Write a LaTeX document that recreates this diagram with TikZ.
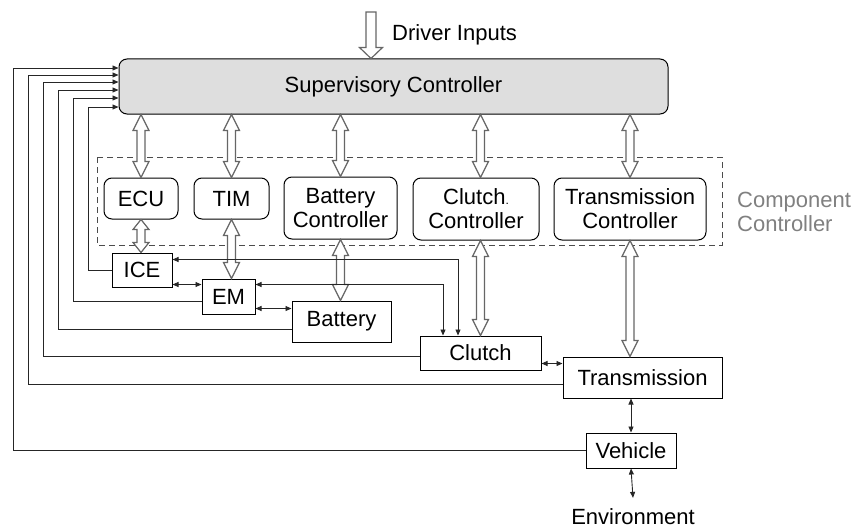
\documentclass[tikz,border=0pt]{standalone}
\usepackage{fontspec}
\setmainfont{Liberation Sans}
\usetikzlibrary{arrows.meta,calc,positioning}

\begin{document}
\begin{tikzpicture}[
  x=1pt, y=-1pt,
  ctrl/.style={rectangle, draw, rounded corners=8pt, align=center, inner sep=0pt,
               line width=1pt, font=\fontsize{22}{24}\selectfont},
  plant/.style={rectangle, draw, inner sep=0pt, line width=1pt,
                font=\fontsize{22}{24}\selectfont},
  lbl/.style={inner sep=0pt, font=\fontsize{22}{24}\selectfont},
  sig/.style={{Triangle[length=6pt,width=5pt]}-{Triangle[length=6pt,width=5pt]},
              line width=0.9pt, draw=black!85},
  fb/.style={-{Triangle[length=6pt,width=5pt]}, line width=0.9pt, draw=black!85},
  bus/.style={draw=black!60, fill=white, line width=1.2pt, to path={
      -- ($(\tikztostart)+(8,#1)$) -- ($(\tikztostart)+(4,#1)$)
      -- ($(\tikztotarget)+(4,-#1)$) -- ($(\tikztotarget)+(8,-#1)$)
      -- (\tikztotarget) -- ($(\tikztotarget)+(-8,-#1)$) -- ($(\tikztotarget)+(-4,-#1)$)
      -- ($(\tikztostart)+(-4,#1)$) -- ($(\tikztostart)+(-8,#1)$) -- cycle}},
  bus/.default=16,
  inarrow/.style={draw=black!60, fill=white, line width=1.2pt, to path={
      -- +(5,0) -- ($(\tikztotarget)+(5,-11)$) -- ($(\tikztotarget)+(11.5,-11)$)
      -- (\tikztotarget) -- ($(\tikztotarget)+(-11.5,-11)$) -- ($(\tikztotarget)+(-5,-11)$)
      -- ($(\tikztostart)+(-5,0)$) -- cycle}}
]
\useasboundingbox (0,0) rectangle (853,527);

% supervisory level
\node[ctrl, fill=black!13, minimum width=549pt, minimum height=55pt] (sup) at (393.5,86.5)
  {Supervisory Controller};
\coordinate (drv) at (371,12);
\node[lbl, anchor=west] (drvtext) at (392,35) {Driver Inputs};
\draw[inarrow] (drv) to (drv |- sup.north);

% component controllers
\draw[black!70, line width=1pt, dash pattern=on 6pt off 4pt] (97,157) rectangle (722,245);
\node[ctrl, minimum width=74pt, minimum height=41pt] (ecu) at (141,198.5) {ECU};
\node[ctrl, minimum width=75pt, minimum height=41pt] (tim) at (231.5,198.5) {TIM};
\node[ctrl, minimum width=113pt, minimum height=62pt] (batctrl) at (340.5,208)
  {Battery\\Controller};
\node[ctrl, minimum width=126pt, minimum height=62pt] (cluctrl) at (476,209)
  {Clutch{\fontsize{12}{12}\selectfont.}\\Controller};
\node[ctrl, minimum width=152pt, minimum height=62pt] (trnctrl) at (630,209)
  {Transmission\\Controller};
\node[lbl, anchor=west, align=left, text=black!50] (comp) at (737,212)
  {Component\\Controller};

% plant
\node[plant, minimum width=60pt, minimum height=34pt] (ice) at (142,270) {ICE};
\node[plant, minimum width=53pt, minimum height=35pt] (em) at (228.5,296.5) {EM};
\node[plant, minimum width=99pt, minimum height=41pt] (bat) at (341.5,321.5) {Battery};
\node[plant, minimum width=121pt, minimum height=34pt] (clutch) at (480.5,353) {Clutch};
\node[plant, minimum width=159pt, minimum height=41pt] (trans) at (642.5,377.5) {Transmission};
\node[plant, minimum width=90pt, minimum height=35pt] (veh) at (631,450.5) {Vehicle};
\node[lbl, anchor=base] (env) at (633,524) {Environment};

% buses
\draw[bus] (ecu.north |- sup.south) to (ecu.north);
\draw[bus] (tim.north |- sup.south) to (tim.north);
\draw[bus] (batctrl.north |- sup.south) to (batctrl.north);
\draw[bus] (clutch.north |- sup.south) to (clutch.north |- cluctrl.north);
\draw[bus] (trnctrl.north |- sup.south) to (trnctrl.north);
\draw[bus=10] (ecu.south) to (ecu.south |- ice.north);
\draw[bus] (tim.south) to (tim.south |- em.north);
\draw[bus] (batctrl.south) to (batctrl.south |- bat.north);
\draw[bus] (clutch.north |- cluctrl.south) to (clutch.north);
\draw[bus] (trnctrl.south) to (trnctrl.south |- trans.north);

% power flow
\draw[sig] ([yshift=3pt]ice.south east) -- ([yshift=3pt]ice.south east -| em.west);
\draw[sig] ([yshift=6pt]em.south east) -- ([yshift=6pt]em.south east -| bat.west);
\draw[sig] ([yshift=-7pt]ice.north east) -| ([xshift=-22.5pt]clutch.north);
\draw[sig] ([yshift=-6pt]em.north east) -| ([xshift=-37.5pt]clutch.north);
\draw[sig] ([yshift=7pt]clutch.south east) -- ([yshift=7pt]clutch.south east -| trans.west);
\draw[sig] (veh.north |- trans.south) -- (veh.north);
\draw[sig] (veh.south) -- ([yshift=10pt]env.north);

% feedback to supervisory controller
\draw[fb] (ice.west) -- ++(-23,0) |- ([yshift=-20.5pt]sup.west);
\draw[fb] ([yshift=-4.5pt]em.west) -- ++(-128,0) |- ([yshift=-11.5pt]sup.west);
\draw[fb] ([yshift=-7.5pt]bat.west) -- ++(-233,0) |- ([yshift=-3.5pt]sup.west);
\draw[fb] ([yshift=-3pt]clutch.west) -- ++(-376,0) |- ([yshift=4.5pt]sup.west);
\draw[fb] ([yshift=-6.5pt]trans.west) -- ++(-534,0) |- ([yshift=11.5pt]sup.west);
\draw[fb] (veh.west) -- ++(-572,0) |- ([yshift=18.5pt]sup.west);
\end{tikzpicture}
\end{document}
